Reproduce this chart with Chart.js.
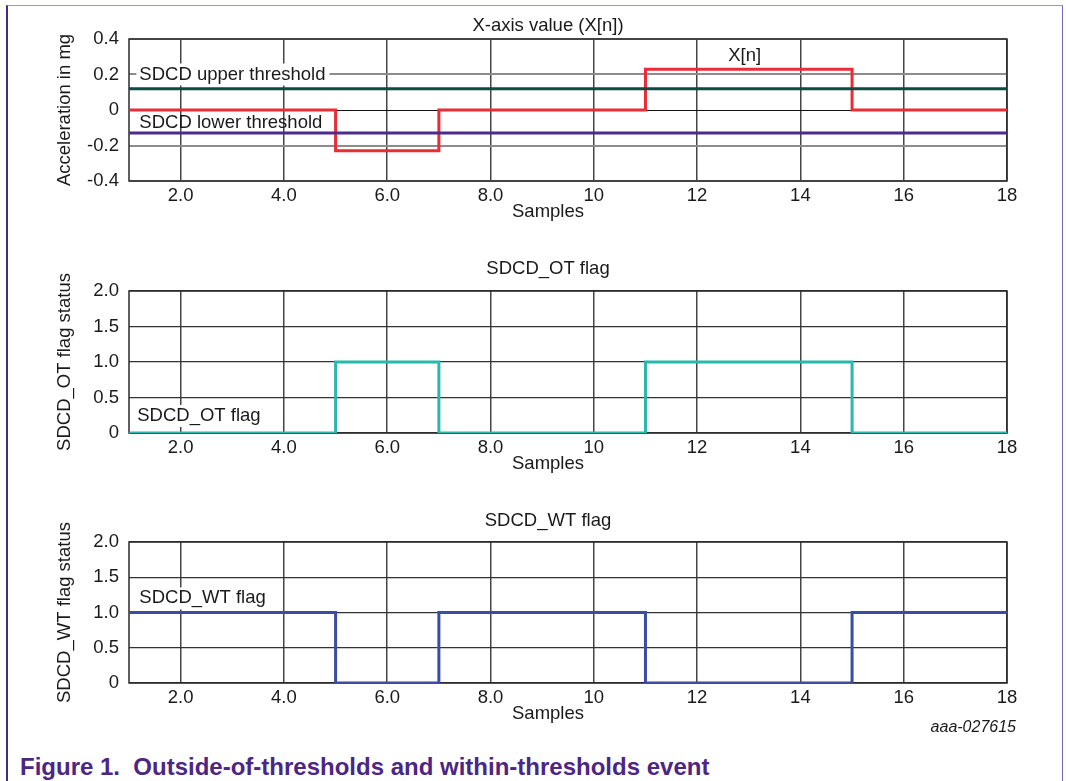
<!DOCTYPE html>
<html>
<head>
<meta charset="utf-8">
<script src="https://cdn.jsdelivr.net/npm/chart.js@4/dist/chart.umd.min.js"></script>
<style>
  html, body { margin: 0; padding: 0; background: #fff; }
  body { width: 1066px; height: 781px; position: relative; overflow: hidden;
         font-family: "Liberation Sans", Arial, sans-serif; }
  .frame { position: absolute; left: 6px; top: 5px; width: 1054px; height: 800px;
           border-left: 2px solid #4a2a7f; border-top: 1px solid #a093c8; border-right: 1px solid #7d63b5; }
  canvas.panel { position: absolute; left: 0; }
  .caption { position: absolute; left: 20px; top: 755px; font-weight: bold; font-size: 24px;
             line-height: 24px; color: #4b2684; white-space: pre; }
  .code { position: absolute; right: 50px; top: 719px; font-style: italic; font-size: 16px;
          line-height: 16px; color: #1a1a1a; }
</style>
</head>
<body>
<div class="frame"></div>
<canvas id="xnChart" class="panel" width="1066" height="231" style="top:0px"></canvas>
<canvas id="otChart" class="panel" width="1066" height="252" style="top:231px"></canvas>
<canvas id="wtChart" class="panel" width="1066" height="250" style="top:483px"></canvas>
<div class="code">aaa-027615</div>
<div class="caption">Figure 1.  Outside-of-thresholds and within-thresholds event</div>
<script>
// Sample index and the step signals recorded per sample
const samples = [1, 2, 3, 4, 5, 6, 7, 8, 9, 10, 11, 12, 13, 14, 15, 16, 17, 18];
const xnValues = [0, 0, 0, 0, -0.23, -0.23, 0, 0, 0, 0, 0.23, 0.23, 0.23, 0.23, 0, 0, 0, 0];
const otFlagValues = [0, 0, 0, 0, 1, 1, 0, 0, 0, 0, 1, 1, 1, 1, 0, 0, 0, 0];
const wtFlagValues = [1, 1, 1, 1, 0, 0, 1, 1, 1, 1, 0, 0, 0, 0, 1, 1, 1, 1];
const upperThreshold = 0.12;
const lowerThreshold = -0.13;

// Axis ticks
const xTickValues = [2, 4, 6, 8, 10, 12, 14, 16, 18];
const xTickLabels = ['2.0', '4.0', '6.0', '8.0', '10', '12', '14', '16', '18'];
const accelTickValues = [-0.4, -0.2, 0, 0.2, 0.4];
const accelTickLabels = ['-0.4', '-0.2', '0', '0.2', '0.4'];
const flagTickValues = [0, 0.5, 1, 1.5, 2];
const flagTickLabels = ['0', '0.5', '1.0', '1.5', '2.0'];

const FONT_FAMILY = '"Liberation Sans", Arial, sans-serif';
const FONT_SIZE = 18.5;
const TEXT_COLOR = '#1a1a1a';

const toPoints = ys => samples.map((x, i) => ({ x: x, y: ys[i] }));
const flatLine = v => [{ x: samples[0], y: v }, { x: samples[samples.length - 1], y: v }];

// Frame, chart title, x-axis name and in-plot labels
const panelText = {
  id: 'panelText',
  beforeDatasetsDraw(chart, args, opts) {
    const { ctx, chartArea: a, scales } = chart;
    ctx.save();
    ctx.strokeStyle = '#2b2b2b';
    ctx.lineWidth = 1.5;
    ctx.strokeRect(a.left, a.top, a.right - a.left, a.bottom - a.top);
    ctx.font = FONT_SIZE + 'px ' + FONT_FAMILY;
    ctx.textBaseline = 'middle';
    ctx.textAlign = 'left';
    (opts.notes || []).forEach(n => {
      const px = scales.x.getPixelForValue(n.x);
      const py = scales.y.getPixelForValue(n.y);
      const w = ctx.measureText(n.text).width;
      const left = n.align === 'center' ? px - w / 2 : px;
      if (n.box) {
        ctx.fillStyle = '#ffffff';
        ctx.fillRect(left - 3, py - 11, w + 7, 22);
      }
      ctx.fillStyle = TEXT_COLOR;
      ctx.fillText(n.text, left, py);
    });
    ctx.restore();
  },
  afterDraw(chart, args, opts) {
    const { ctx, chartArea: a } = chart;
    ctx.save();
    ctx.font = FONT_SIZE + 'px ' + FONT_FAMILY;
    ctx.fillStyle = TEXT_COLOR;
    ctx.textAlign = 'center';
    ctx.textBaseline = 'middle';
    ctx.fillText(opts.title, opts.centerX, a.top - opts.titleGap);
    ctx.fillText(opts.xLabel, opts.centerX, a.bottom + opts.xLabelGap);
    ctx.restore();
  }
};

function stepSeries(label, ys, color) {
  return {
    label: label, data: toPoints(ys), borderColor: color, borderWidth: 3,
    stepped: 'before', pointRadius: 0, fill: false,
    borderJoinStyle: 'miter', borderCapStyle: 'butt'
  };
}
function levelSeries(label, v, color) {
  return {
    label: label, data: flatLine(v), borderColor: color, borderWidth: 3,
    pointRadius: 0, fill: false, borderCapStyle: 'butt'
  };
}

function makeChart(id, cfg) {
  return new Chart(document.getElementById(id), {
    type: 'line',
    data: { datasets: cfg.datasets },
    plugins: [panelText],
    options: {
      responsive: false,
      animation: false,
      devicePixelRatio: 1,
      layout: { padding: { top: cfg.padTop, left: 0, right: 59, bottom: 0 } },
      plugins: {
        legend: { display: false },
        tooltip: { enabled: false },
        title: { display: false },
        panelText: {
          title: cfg.title, xLabel: 'Samples', centerX: 548,
          titleGap: cfg.titleGap, xLabelGap: 31, notes: cfg.notes
        }
      },
      scales: {
        x: {
          type: 'linear', min: 1, max: 18,
          afterBuildTicks: s => { s.ticks = xTickValues.map(v => ({ value: v })); },
          afterFit: s => { s.height = 50; },
          border: { display: false },
          grid: { color: '#454545', lineWidth: 1.5, drawTicks: false },
          ticks: {
            padding: 3.4, color: TEXT_COLOR, maxRotation: 0, autoSkip: false,
            font: { family: FONT_FAMILY, size: FONT_SIZE },
            callback: v => xTickLabels[xTickValues.indexOf(v)]
          }
        },
        y: {
          type: 'linear', min: cfg.yTicks[0], max: cfg.yTicks[cfg.yTicks.length - 1],
          afterBuildTicks: s => { s.ticks = cfg.yTicks.map(v => ({ value: v })); },
          afterFit: s => { s.width = 129; },
          border: { display: false },
          grid: { color: cfg.gridColor, lineWidth: cfg.gridWidth, drawTicks: false },
          ticks: {
            padding: 10, color: TEXT_COLOR, autoSkip: false,
            font: { family: FONT_FAMILY, size: FONT_SIZE },
            callback: v => cfg.yLabels[cfg.yTicks.indexOf(v)]
          },
          title: {
            display: true, text: cfg.yTitle, color: TEXT_COLOR,
            font: { family: FONT_FAMILY, size: FONT_SIZE },
            padding: { top: 53.9, bottom: 0 }
          }
        }
      }
    }
  });
}

makeChart('xnChart', {
  title: 'X-axis value (X[n])',
  yTitle: 'Acceleration in mg',
  padTop: 39, titleGap: 13.5,
  yTicks: accelTickValues, yLabels: accelTickLabels,
  gridColor: c => (c.tick && c.tick.value === 0 ? '#111111' : '#8c8c8c'),
  gridWidth: c => (c.tick && c.tick.value === 0 ? 1 : 2),
  datasets: [
    levelSeries('SDCD upper threshold', upperThreshold, '#0e4a3d'),
    levelSeries('SDCD lower threshold', lowerThreshold, '#4e2a8e'),
    stepSeries('X[n]', xnValues, '#ec2b35')
  ],
  notes: [
    { text: 'SDCD upper threshold', x: 1.2, y: 0.2, box: true },
    { text: 'SDCD lower threshold', x: 1.2, y: -0.07, box: false },
    { text: 'X[n]', x: 12.92, y: 0.305, align: 'center', box: false }
  ]
});

makeChart('otChart', {
  title: 'SDCD_OT flag',
  yTitle: 'SDCD_OT flag status',
  padTop: 60, titleGap: 22,
  yTicks: flagTickValues, yLabels: flagTickLabels,
  gridColor: '#333333', gridWidth: 1.2,
  datasets: [stepSeries('SDCD_OT flag', otFlagValues, '#2ab7ae')],
  notes: [{ text: 'SDCD_OT flag', x: 1.16, y: 0.24, box: true }]
});

makeChart('wtChart', {
  title: 'SDCD_WT flag',
  yTitle: 'SDCD_WT flag status',
  padTop: 59, titleGap: 21,
  yTicks: flagTickValues, yLabels: flagTickLabels,
  gridColor: '#333333', gridWidth: 1.2,
  datasets: [stepSeries('SDCD_WT flag', wtFlagValues, '#3a4da6')],
  notes: [{ text: 'SDCD_WT flag', x: 1.2, y: 1.2, box: true }]
});
</script>
</body>
</html>
